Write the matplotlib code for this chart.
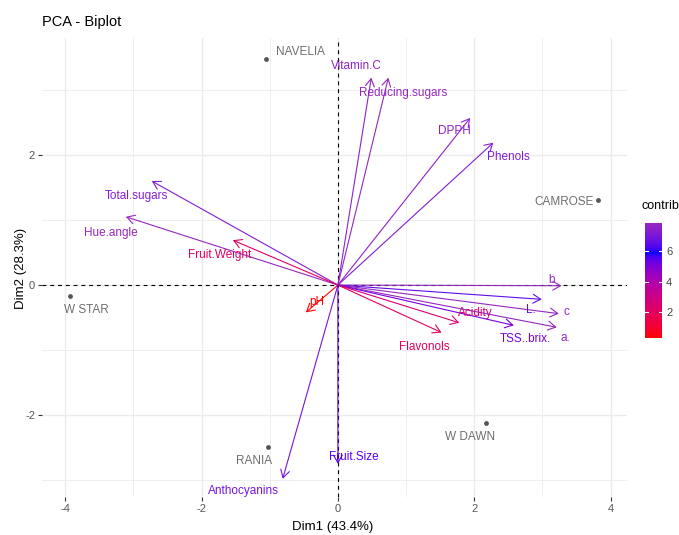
import numpy as np
import matplotlib
matplotlib.use("Agg")
import matplotlib.pyplot as plt

plt.rcParams['font.family'] = ['Liberation Sans', 'DejaVu Sans']

# ---- data -----------------------------------------------------------------
var_names = ["Vitamin.C", "Reducing.sugars", "DPPH", "Phenols", "Total.sugars",
             "Hue.angle", "Fruit.Weight", "pH", "b", "L.", "c", "a.",
             "TSS..brix.", "Acidity", "Flavonols", "Anthocyanins", "Fruit.Size"]
var_dim1 = [0.49, 0.74, 1.94, 2.28, -2.73, -3.11, -1.54, -0.47, 3.28, 2.99,
            3.24, 3.21, 2.58, 1.78, 1.52, -0.81, 0.00]
var_dim2 = [3.19, 3.19, 2.57, 2.19, 1.60, 1.05, 0.69, -0.42, -0.01, -0.22,
            -0.44, -0.65, -0.62, -0.58, -0.73, -2.98, -2.75]

ind_names = ["NAVELIA", "CAMROSE", "W STAR", "RANIA", "W DAWN"]
ind_dim1 = [-1.05, 3.82, -3.93, -1.03, 2.17]
ind_dim2 = [3.47, 1.31, -0.17, -2.49, -2.12]

x_ticks = [-4, -2, 0, 2, 4]
y_ticks = [-2, 0, 2]
legend_ticks = [2, 4, 6]

# label offsets (pixels: right, up) from arrow tips / points
var_label_offset = {
    "Vitamin.C": (-15, 12), "Reducing.sugars": (15, -15), "DPPH": (-16, -13),
    "Phenols": (15, -14), "Total.sugars": (-15, -15), "Hue.angle": (-15, -16),
    "Fruit.Weight": (-13, -15), "pH": (11, 10), "b": (-10, 6), "L.": (-11, -11),
    "c": (8, 2), "a.": (9, -11), "TSS..brix.": (12, -14), "Acidity": (16, 10),
    "Flavonols": (-17, -14), "Anthocyanins": (-39, -12), "Fruit.Size": (16, 7),
}
ind_label_offset = {
    "NAVELIA": (34, 7), "CAMROSE": (-34, -2), "W STAR": (16, -14),
    "RANIA": (-14, -14), "W DAWN": (-16, -14),
}

# ---- colour scale: red -> blue -> purple, blue at the mean contribution ---
M = np.array([[0.4124564, 0.3575761, 0.1804375],
              [0.2126729, 0.7151522, 0.0721750],
              [0.0193339, 0.1191920, 0.9503041]])
WHITE = np.array([0.95047, 1.0, 1.08883])


def to_lab(rgb):
    c = np.asarray(rgb, float)
    lin = np.where(c <= 0.04045, c / 12.92, ((c + 0.055) / 1.055) ** 2.4)
    t = (M @ lin) / WHITE
    d = 6 / 29
    f = np.where(t > d ** 3, np.cbrt(t), t / (3 * d * d) + 4 / 29)
    return np.array([116 * f[1] - 16, 500 * (f[0] - f[1]), 200 * (f[1] - f[2])])


def from_lab(lab):
    L, a, b = lab
    fy = (L + 16) / 116
    f = np.array([fy + a / 500, fy, fy - b / 200])
    d = 6 / 29
    t = np.where(f > d, f ** 3, 3 * d * d * (f - 4 / 29))
    lin = np.clip(np.linalg.inv(M) @ (t * WHITE), 0, 1)
    c = np.where(lin <= 0.0031308, 12.92 * lin, 1.055 * lin ** (1 / 2.4) - 0.055)
    return np.clip(c, 0, 1)


LOW = to_lab((1, 0, 0))
MID = to_lab((0, 0, 1))
HIGH = to_lab((150 / 255, 40 / 255, 190 / 255))

vx = np.array(var_dim1)
vy = np.array(var_dim2)
contrib = 100 * (vx ** 2 + vy ** 2) / np.sum(vx ** 2 + vy ** 2)
cmin, cmax = contrib.min(), contrib.max()
cmid = contrib.mean()


def contrib_color(v):
    if v <= cmid:
        u = (v - cmin) / (cmid - cmin)
        lab = LOW + (MID - LOW) * u
    else:
        u = (v - cmid) / (cmax - cmid)
        lab = MID + (HIGH - MID) * u
    return from_lab(lab)


# ---- figure ---------------------------------------------------------------
W, H = 679, 535
fig = plt.figure(figsize=(W / 100, H / 100), dpi=100)
ax = fig.add_axes([42 / W, 1 - 497 / H, (627 - 42) / W, (497 - 38) / H])
ax.set_xlim(-4.34, 4.24)
ax.set_ylim(-3.26, 3.80)

grid_col = "#EBEBEB"
for gx in range(-4, 5):
    ax.axvline(gx, color=grid_col, lw=1.0 if gx % 2 == 0 else 0.6, zorder=0)
for gy in range(-3, 4):
    ax.axhline(gy, color=grid_col, lw=1.0 if gy % 2 == 0 else 0.6, zorder=0)

ax.axhline(0, color="black", lw=0.8, ls=(0, (3.5, 3.5)), zorder=1)
ax.axvline(0, color="black", lw=0.8, ls=(0, (3.5, 3.5)), zorder=1)

for s in ax.spines.values():
    s.set_visible(False)
ax.set_xticks(x_ticks)
ax.set_yticks(y_ticks)
ax.set_xticklabels([str(t) for t in x_ticks])
ax.set_yticklabels([str(t) for t in y_ticks])
ax.tick_params(length=3, width=0.8, color="#333333", labelcolor="#555555",
               labelsize=8, pad=2)

# individuals
ax.scatter(ind_dim1, ind_dim2, s=12, color="#555555", zorder=3, linewidths=0)
for name, x, y in zip(ind_names, ind_dim1, ind_dim2):
    dx, dy = ind_label_offset[name]
    ax.annotate(name, xy=(x, y), xytext=(dx * 0.72, dy * 0.72),
                textcoords="offset points", ha="center", va="center",
                color="#6E6E6E", fontsize=8.5, zorder=4)

# variables
for name, x, y, c in zip(var_names, var_dim1, var_dim2, contrib):
    col = contrib_color(c)
    ax.annotate("", xy=(x, y), xytext=(0, 0),
                arrowprops=dict(arrowstyle="->,head_length=0.5,head_width=0.29",
                                color=col, lw=0.8, shrinkA=0, shrinkB=0,
                                mutation_scale=11), zorder=5)
    dx, dy = var_label_offset[name]
    ax.annotate(name, xy=(x, y), xytext=(dx * 0.72, dy * 0.72),
                textcoords="offset points", ha="center", va="center",
                color=col, fontsize=8.5, zorder=6)

fig.text(333 / W, 1 - 527 / H, "Dim1 (43.4%)", ha="center", va="center", fontsize=9.5)
fig.text(21 / W, 1 - 268 / H, "Dim2 (28.3%)", ha="center", va="center",
         rotation=90, fontsize=9.5)
fig.text(42 / W, 1 - 22 / H, "PCA - Biplot", ha="left", va="center", fontsize=10.5)

# colour bar legend
cax = fig.add_axes([645 / W, 1 - 338 / H, 17 / W, 115 / H])
vals = np.linspace(cmin, cmax, 256)
img = np.array([contrib_color(v) for v in vals])[:, None, :]
cax.imshow(img, aspect="auto", origin="lower", extent=[0, 1, cmin, cmax])
cax.set_xlim(0, 1)
cax.set_ylim(cmin, cmax)
for t in legend_ticks:
    cax.plot([0, 0.2], [t, t], color="white", lw=0.8)
    cax.plot([0.8, 1], [t, t], color="white", lw=0.8)
for s in cax.spines.values():
    s.set_visible(False)
cax.set_xticks([])
cax.yaxis.tick_right()
cax.set_yticks(legend_ticks)
cax.set_yticklabels([str(t) for t in legend_ticks])
cax.tick_params(axis="y", length=0, labelsize=8, labelcolor="#444444", pad=3)
fig.text(642 / W, 1 - 206 / H, "contrib", ha="left", va="center", fontsize=9)

fig.savefig("out.png", dpi=100)
